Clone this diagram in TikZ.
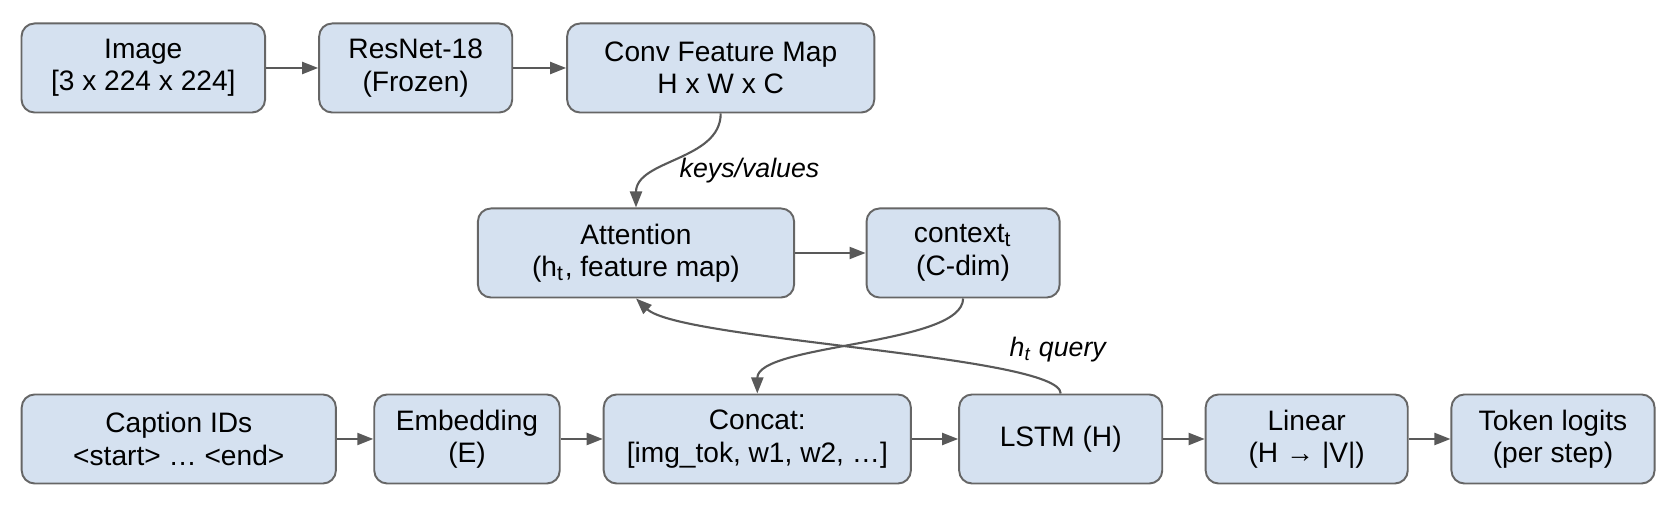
\documentclass[tikz,border=0pt]{standalone}
\usepackage{fontspec}
\setmainfont{Liberation Sans}
\usepackage{xcolor}
\usepackage{tikz}
\usetikzlibrary{arrows.meta}
\definecolor{boxfill}{HTML}{D5E1F0}
\definecolor{boxline}{HTML}{666666}
\definecolor{flow}{HTML}{595959}

\begin{document}
\begin{tikzpicture}[x=0.01cm,y=-0.01cm,
        font=\fontsize{8pt}{9.2pt}\selectfont,
        block/.style={draw=boxline,fill=boxfill,line width=0.55pt,rounded corners=0.13cm,
          minimum height=0.89cm,align=center,inner sep=0pt},
        note/.style={font=\fontsize{7.6pt}{9pt}\selectfont\itshape,anchor=west,inner sep=0pt},
        flowline/.style={-{Triangle[length=0.16cm,width=0.12cm]},line width=0.6pt,flow}]
      \useasboundingbox (0,0) rectangle (1678,510);
      \node[block,minimum width=2.434cm] (img) at (143.3,68) {Image\\{}[3 x 224 x 224]};
      \node[block,minimum width=1.93cm] (resnet) at (415.7,68) {ResNet-18\\(Frozen)};
      \node[block,minimum width=3.07cm] (conv) at (720.7,68) {Conv Feature Map\\H x W x C};
      \node[block,minimum width=3.16cm] (attn) at (636,253) {Attention\\(h\textsubscript{t}, feature map)};
      \node[block,minimum width=1.93cm] (ctx) at (963.1,253) {context\textsubscript{t}\\(C-dim)};
      \node[block,minimum width=3.14cm] (cap) at (178.8,439) {Caption IDs\\<start> … <end>};
      \node[block,minimum width=1.854cm] (emb) at (467,439) {Embedding\\(E)};
      \node[block,minimum width=3.07cm] (cat) at (757.3,439) {Concat:\\{}[img\_tok, w1, w2, …]};
      \node[block,minimum width=2.03cm] (lstm) at (1060.7,439) {LSTM (H)};
      \node[block,minimum width=2.02cm] (lin) at (1306.7,439) {Linear\\(H → |V|)};
      \node[block,minimum width=2.03cm] (logits) at (1553,439) {Token logits\\(per step)};
      \node[note] (kv) at (679,171) {keys/values};
      \node[note] (hq) at (1009,350) {h\textsubscript{t} query};
      \foreach \a/\b in {img/resnet,resnet/conv,attn/ctx,cap/emb,emb/cat,cat/lstm,lstm/lin,lin/logits}
        \draw[flowline] (\a.east) -- (\b.west);
      \draw[flowline] (conv.south) .. controls +(0,47) and +(0,-48) .. (attn.north);
      \draw[flowline] (ctx.south) .. controls +(0,47) and +(0,-50) .. (cat.north);
      \draw[flowline] (lstm.north) .. controls +(0,-38) and +(44,42) .. (attn.south);
    \end{tikzpicture}
\end{document}
